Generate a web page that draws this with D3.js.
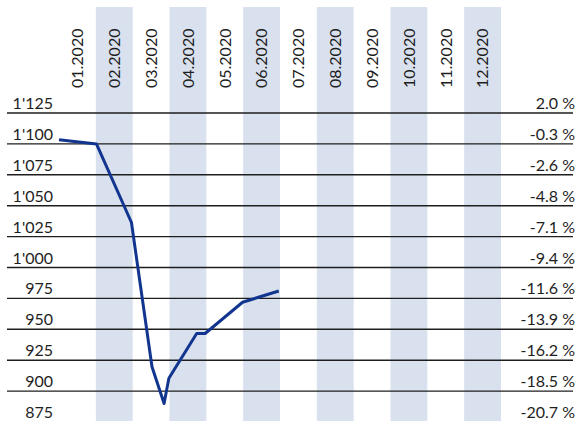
<!DOCTYPE html>
<html>
<head>
<meta charset="utf-8">
<script src="https://cdn.jsdelivr.net/npm/d3@7"></script>
<style>
  body { margin: 0; background: #fff; }
  svg { display: block; }
</style>
</head>
<body>
<svg id="chart"></svg>
<script>
// months shown on top
const months = ['01.2020', '02.2020', '03.2020', '04.2020', '05.2020', '06.2020',
    '07.2020', '08.2020', '09.2020', '10.2020', '11.2020', '12.2020'];
// observations of the index
const obsDates = ['2020-01-01', '2020-02-01', '2020-03-01', '2020-03-18', '2020-03-28',
    '2020-04-01', '2020-04-24', '2020-05-01', '2020-06-01', '2020-07-01'];
const obsValues = [1103.4, 1100, 1036.4, 919.7, 890, 910.4, 946.6, 946.6, 971.9, 981];
// left axis
const leftTicks = [1125, 1100, 1075, 1050, 1025, 1000, 975, 950, 925, 900, 875];
// right axis labels (change vs start)
const rightLabels = ['2.0 %', '-0.3 %', '-2.6 %', '-4.8 %', '-7.1 %', '-9.4 %',
    '-11.6 %', '-13.9 %', '-16.2 %', '-18.5 %', '-20.7 %'];

function drawChart() {
    const width = 577,
        height = 421;
    const font = 'Lato, "Open Sans", sans-serif';

    const svg = d3.select('#chart')
        .attr('width', width)
        .attr('height', height);

    const x = d3.scaleBand().domain(months).range([59, 501]).padding(0);
    const xt = d3.scaleTime()
        .domain([new Date(2020, 0, 1), new Date(2021, 0, 1)])
        .range([59, 501]);
    const y = d3.scaleLinear().domain([875, 1125]).range([422, 113]);

    // shaded columns for every second month
    svg.append('g')
        .selectAll('rect')
        .data(months.filter((m, i) => i % 2 === 1))
        .join('rect')
        .attr('x', d => x(d))
        .attr('y', 7)
        .attr('width', x.bandwidth())
        .attr('height', height - 7)
        .attr('fill', '#d9e0ee');

    // month labels
    svg.append('g')
        .attr('font-family', font)
        .attr('font-size', 16)
        .attr('fill', '#1e1e1e')
        .selectAll('text')
        .data(months)
        .join('text')
        .attr('transform', d => `translate(${x(d) + x.bandwidth() / 2},88) rotate(-90)`)
        .attr('dy', '0.36em')
        .attr('text-anchor', 'start')
        .text(d => d);

    // gridlines
    svg.append('g')
        .selectAll('line')
        .data(leftTicks.filter(v => v > 875))
        .join('line')
        .attr('x1', 7)
        .attr('x2', 573)
        .attr('y1', d => y(d))
        .attr('y2', d => y(d))
        .attr('stroke', '#1e1e1e')
        .attr('stroke-width', 1.4);

    const fmt = v => d3.format(',')(v).replace(',', "'");

    // left labels
    svg.append('g')
        .attr('font-family', font)
        .attr('font-size', 16)
        .attr('fill', '#1e1e1e')
        .attr('text-anchor', 'end')
        .selectAll('text')
        .data(leftTicks)
        .join('text')
        .attr('x', 53)
        .attr('y', d => y(d) - 4)
        .text(d => fmt(d));

    // right labels
    svg.append('g')
        .attr('font-family', font)
        .attr('font-size', 16)
        .attr('fill', '#1e1e1e')
        .attr('text-anchor', 'end')
        .selectAll('text')
        .data(rightLabels)
        .join('text')
        .attr('x', 575)
        .attr('y', (d, i) => y(leftTicks[i]) - 4)
        .text(d => d);

    // the index line
    const parse = d3.timeParse('%Y-%m-%d');
    const points = obsDates.map((d, i) => ({ date: parse(d), value: obsValues[i] }));
    const line = d3.line()
        .x(d => xt(d.date))
        .y(d => y(d.value));

    svg.append('path')
        .datum(points)
        .attr('fill', 'none')
        .attr('stroke', '#12368f')
        .attr('stroke-width', 3)
        .attr('stroke-linejoin', 'round')
        .attr('d', line);
}

drawChart();
</script>
</body>
</html>
